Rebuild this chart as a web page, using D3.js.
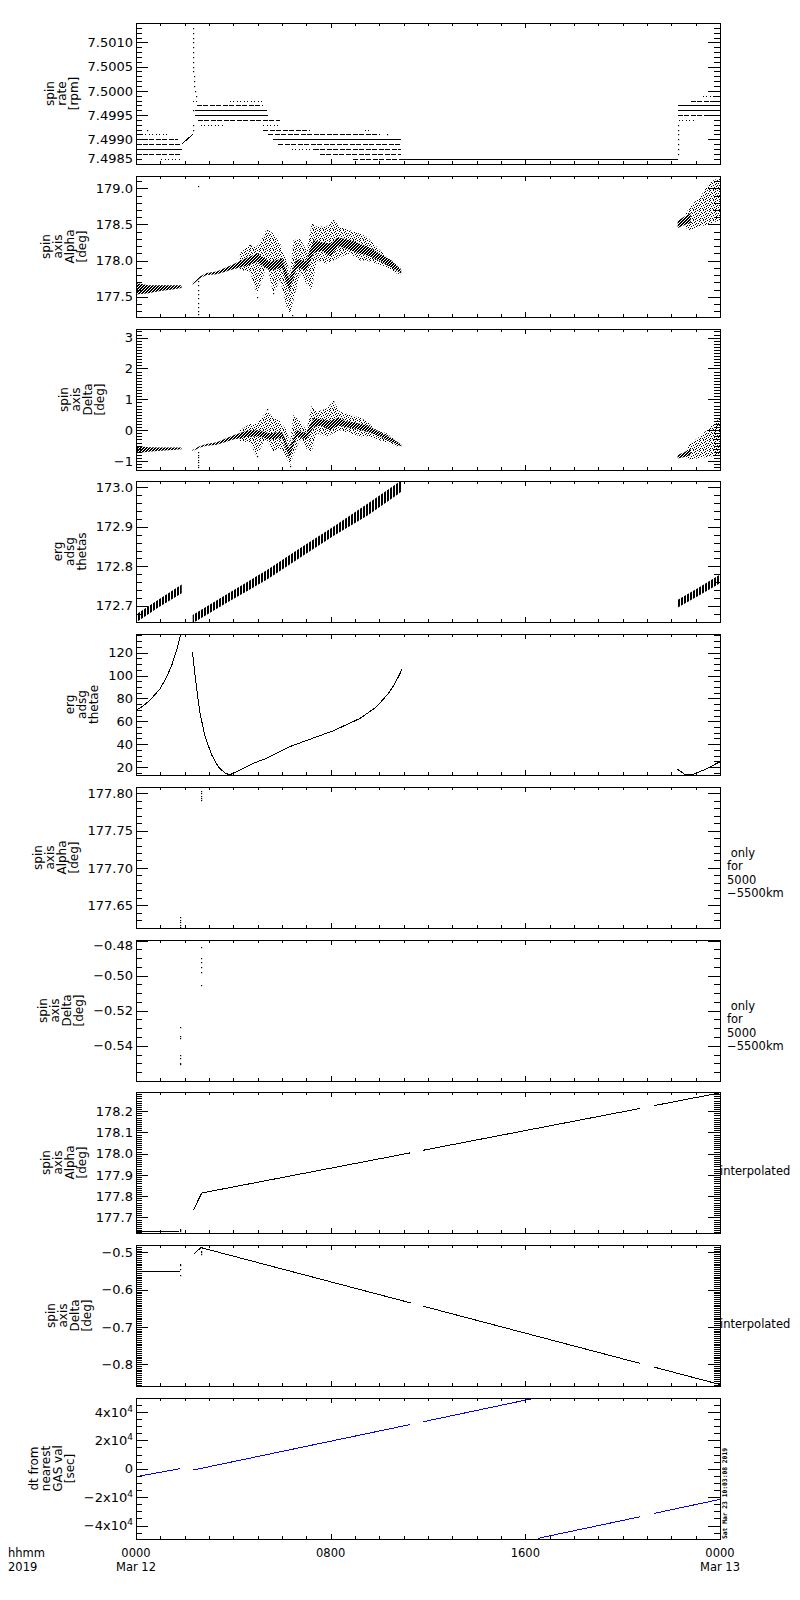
<!DOCTYPE html>
<html><head><meta charset="utf-8">
<script src="https://cdn.jsdelivr.net/npm/d3@7"></script>
<style>
body{margin:0;background:#fff;}
svg{display:block;font-family:"DejaVu Sans",sans-serif;}
.note{white-space:pre;}
</style></head><body>
<svg id="chart" width="800" height="1600"></svg>
<script>
// ---------------- DATA ----------------
const hourDomain = [0, 24];
const majorHourTicks = [0, 8, 16, 24];
const hourTickLabels = [["0000","Mar 12"],["0800"],["1600"],["0000","Mar 13"]];
const cornerLabel = ["hhmm","2019"];
const stampText = "Sat Mar 23 10:03:08 2019";

const panelTitles = [
  ["spin","rate","[rpm]"],
  ["spin","axis","Alpha","[deg]"],
  ["spin","axis","Delta","[deg]"],
  ["erg","adsg","thetas"],
  ["erg","adsg","thetae"],
  ["spin","axis","Alpha","[deg]"],
  ["spin","axis","Delta","[deg]"],
  ["spin","axis","Alpha","[deg]"],
  ["spin","axis","Delta","[deg]"],
  ["dt from","nearest","GAS val","[sec]"]
];
const panelNotes = [null,null,null,null,null,
  ["\u00a0only","for","5000","\u22125500km"],
  ["\u00a0only","for","5000","\u22125500km"],
  ["interpolated"],["interpolated"],null];

const yDomains = [
  [7.49849, 7.50140],[177.22, 179.17],[-1.29, 3.28],[172.659, 173.016],[13.0, 136.3],
  [177.6195, 177.8085],[-0.5601, -0.4797],[177.627, 178.29],[-0.859, -0.48],[-49500, 49800]
];
const yMajorTicks = [
  [7.4985,7.4990,7.4995,7.5000,7.5005,7.5010],
  [177.5,178.0,178.5,179.0],
  [-1,0,1,2,3],
  [172.7,172.8,172.9,173.0],
  [20,40,60,80,100,120],
  [177.65,177.70,177.75,177.80],
  [-0.54,-0.52,-0.50,-0.48],
  [177.7,177.8,177.9,178.0,178.1,178.2],
  [-0.8,-0.7,-0.6,-0.5],
  [-40000,-20000,0,20000,40000]
];
const yTickLabels = [
  ["7.4985","7.4990","7.4995","7.5000","7.5005","7.5010"],
  ["177.5","178.0","178.5","179.0"],
  ["\u22121","0","1","2","3"],
  ["172.7","172.8","172.9","173.0"],
  ["20","40","60","80","100","120"],
  ["177.65","177.70","177.75","177.80"],
  ["\u22120.54","\u22120.52","\u22120.50","\u22120.48"],
  ["177.7","177.8","177.9","178.0","178.1","178.2"],
  ["\u22120.8","\u22120.7","\u22120.6","\u22120.5"],
  [["\u22124x10","4"],["\u22122x10","4"],["0",""],["2x10","4"],["4x10","4"]]
];
const yMinorSteps = [0.0001, 0.1, 0.1, 0.02, 5, 0.01, 0.005, 0.01, 0.005, 5000];

// Panel 1: spin rate – quantised rows [startHour, endHour, rpm]
const rateRowsSolid = [
  [0,1.88,7.4988],[2.42,5.37,7.4996],[2.42,5.44,7.4995],[5.64,10.9,7.4990],
  [22.26,24,7.4997],[22.26,24,7.4996],[10.9,22.26,7.4986]
];
const rateRowsDashed = [
  [0,1.74,7.4990],[0,1.88,7.4989],[0,1.88,7.4987],[2.5,5.23,7.4997],[2.53,5.92,7.4994],
  [5.23,7.15,7.4992],[5.44,10.03,7.4991],[5.85,10.9,7.4989],[7.3,10.9,7.4988],
  [7.56,10.9,7.4987],[8.93,10.9,7.4986],[22.8,24,7.4998],[22.26,24,7.4995]
];
const rateRowsDotted = [
  [0.23,1.33,7.4991],[1.03,1.88,7.4986],[3.86,5.16,7.4998],[2.67,3.59,7.4993],
  [5.23,5.92,7.4993],[6.4,7.3,7.4988],[9.4,9.6,7.4992],[23.3,24,7.4999],
  [22.3,22.95,7.4994],[2.33,2.6,7.4998]
];
const rateBridge = [[1.88,7.4989],[2.33,7.4991]];
const ratePoints = [
  [0.44,7.4992],[2.33,7.5013],[2.33,7.5012],[2.33,7.5011],[2.33,7.5010],[2.33,7.5009],
  [2.34,7.5008],[2.34,7.5007],[2.35,7.5006],[2.35,7.5005],[2.36,7.5004],[2.37,7.5003],
  [2.38,7.5002],[2.40,7.5001],[2.42,7.5000],[2.45,7.4999],[2.33,7.4996],[2.33,7.4993],
  [2.33,7.4992],[10.3,7.4991],[22.26,7.4987],[22.26,7.4988],[22.26,7.4989],
  [22.26,7.4990],[22.26,7.4991],[22.26,7.4992],[22.26,7.4993]
];

// Panel 2: spin axis Alpha – dense core [hour, lo, hi], scatter envelope, outliers
const alphaCore = [
  [[0,177.53,177.69],[0.5,177.55,177.66],[1.0,177.58,177.66],[1.5,177.60,177.66],[1.87,177.62,177.66]],
  [[2.32,177.665,177.69],[2.63,177.755,177.78],[2.9,177.80,177.83],[3.32,177.81,177.85],
   [4.0,177.88,177.95],[4.55,177.93,178.04],[5.0,177.98,178.10],[5.5,177.86,177.98],
   [6.0,177.90,178.03],[6.3,177.58,177.75],[6.6,177.90,178.02],[7.0,177.86,177.99],
   [7.3,178.10,178.28],[7.6,178.14,178.25],[8.0,178.06,178.24],[8.3,178.20,178.32],
   [8.6,178.17,178.30],[9.0,178.12,178.26],[9.5,178.07,178.19],[10.0,178.00,178.10],
   [10.5,177.90,178.00],[10.9,177.82,177.87]],
  [[22.26,178.45,178.55],[22.6,178.50,178.62],[22.8,178.52,178.66]]
];
const alphaSpread = [
  [[4.27,177.87,178.10],[4.68,177.85,178.22],[4.96,177.54,178.19],[5.23,177.77,178.33],
   [5.37,177.96,178.44],[5.64,177.54,178.37],[5.92,177.73,178.24],[6.19,177.36,178.00],
   [6.33,177.27,177.82],[6.47,177.45,178.28],[6.74,177.82,178.30],[7.01,177.68,178.14],
   [7.22,177.59,178.51],[7.42,178.00,178.47],[7.84,177.96,178.47],[8.11,178.00,178.56],
   [8.38,178.05,178.47],[8.79,178.10,178.42],[9.21,178.00,178.37],[9.48,178.00,178.33],
   [9.89,177.96,178.19],[10.3,177.91,178.05],[10.71,177.82,177.94],[10.9,177.81,177.88]],
  [[22.6,178.45,178.65],[22.77,178.42,178.75],[23.18,178.47,178.88],[23.6,178.51,179.09],[24,178.56,179.15]]
];
const alphaOutliers = [
  [2.53,179.03],[2.53,177.72],[2.53,177.66],[2.53,177.60],[2.53,177.54],[2.53,177.48],
  [2.53,177.42],[2.53,177.36],[2.53,177.30],[2.53,177.26],[4.96,177.50],[5.64,177.55],
  [6.4,177.25],[7.22,178.51],[8.11,178.56],[5.37,178.43],[4.68,178.22],[0.02,177.45]
];

// Panel 3: spin axis Delta
const deltaCore = [
  [[0,-0.75,-0.50],[0.5,-0.70,-0.55],[1.0,-0.67,-0.56],[1.5,-0.64,-0.56],[1.87,-0.62,-0.56]],
  [[2.32,-0.68,-0.64],[2.63,-0.56,-0.51],[2.9,-0.50,-0.45],[3.32,-0.47,-0.39],[4.0,-0.30,-0.16],
   [4.55,-0.22,-0.02],[5.0,-0.20,0.0],[5.5,-0.30,-0.10],[6.0,-0.25,-0.05],[6.3,-0.90,-0.60],
   [6.6,-0.20,0.0],[7.0,-0.30,-0.10],[7.3,0.10,0.40],[7.6,0.15,0.35],[8.0,0.0,0.30],
   [8.3,0.15,0.40],[8.6,0.10,0.30],[9.0,0.05,0.25],[9.5,-0.05,0.15],[10.0,-0.20,-0.05],
   [10.5,-0.38,-0.25],[10.9,-0.52,-0.46]],
  [[22.26,-0.92,-0.80],[22.5,-0.88,-0.72],[22.8,-0.80,-0.62]]
];
const deltaSpread = [
  [[4.27,-0.35,0.0],[4.68,-0.40,0.20],[4.96,-0.85,0.20],[5.23,-0.40,0.45],[5.37,-0.30,0.65],
   [5.64,-0.70,0.40],[5.92,-0.60,0.30],[6.19,-0.90,0.0],[6.33,-1.15,-0.40],[6.47,-0.80,0.50],
   [6.74,-0.30,0.30],[7.01,-0.60,0.0],[7.22,-0.70,0.80],[7.42,-0.10,0.60],[7.84,-0.20,0.70],
   [8.11,-0.10,0.95],[8.38,0.0,0.60],[8.79,-0.10,0.50],[9.21,-0.20,0.40],[9.48,-0.20,0.30],
   [9.89,-0.30,0.0],[10.3,-0.40,-0.10],[10.71,-0.52,-0.35],[10.9,-0.55,-0.45]],
  [[22.6,-0.90,-0.65],[22.77,-0.95,-0.45],[23.18,-0.90,-0.20],[23.6,-0.85,0.10],[24,-0.80,0.40]]
];
const deltaOutliers = [
  [2.53,-0.72],[2.53,-0.80],[2.53,-0.88],[2.53,-0.96],[2.53,-1.04],[2.53,-1.12],[2.53,-1.20],
  [4.96,-0.85],[5.37,0.68],[8.11,0.96],[6.33,-1.15]
];

// Panel 4: erg adsg thetas band [hour, lo, hi]
const thetasBand = [
  [[0,172.658,172.678],[0.9,172.695,172.715],[1.88,172.732,172.754]],
  [[2.33,172.656,172.677],[3.8,172.710,172.732],[5.37,172.766,172.790],[6.8,172.824,172.848],
   [8.11,172.877,172.900],[9.5,172.928,172.958],[10.78,172.983,173.012],[10.92,172.990,173.016]],
  [[22.25,172.695,172.715],[23.1,172.725,172.745],[24,172.757,172.779]]
];

// Panel 5: erg adsg thetae
const thetaeLine = [
  [[0,69.5],[0.3,73.5],[0.58,78.5],[1.0,88.7],[1.26,98.8],[1.47,109],[1.67,122],[1.81,133.8],[1.86,137]],
  [[2.32,120.7],[2.42,101.8],[2.52,84.3],[2.63,66.9],[2.84,46.5],[3.11,30.5],[3.38,20.3],[3.66,14.5],
   [3.86,13.2],[4.14,16.0],[4.82,23.3],[5.37,27.6],[6.33,37.9],[8.11,51.7],[9.21,62.5],[9.89,72.7],
   [10.37,84.3],[10.64,93],[10.85,101.8],[10.92,106]],
  [[22.25,18],[22.56,13.5],[22.9,13.5],[23.4,18],[24,24.6]]
];

// Panel 6/7: only for 5000-5500 km
const alphaSelPoints = [
  [1.81,177.634],[1.81,177.630],[1.80,177.627],[1.81,177.624],[1.82,177.621],
  [2.67,177.803],[2.67,177.800],[2.67,177.797],[2.67,177.794],[2.68,177.791]
];
const deltaSelPoints = [
  [1.81,-0.5291],[1.81,-0.5347],[1.80,-0.5356],[1.81,-0.5450],[1.81,-0.5469],[1.80,-0.5497],[1.81,-0.5506],
  [2.67,-0.4837],[2.67,-0.4897],[2.67,-0.4925],[2.67,-0.4953],[2.67,-0.4981],[2.67,-0.5056]
];

// Panel 8/9: interpolated
const alphaInterp = [
  [[0,177.635],[1.78,177.635]],
  [[2.36,177.735],[2.7,177.815],[11.28,178.004]],
  [[11.8,178.016],[20.73,178.213]],
  [[21.3,178.226],[24,178.286]]
];
const alphaInterpPoints = [[1.8,177.638],[1.8,177.641],[1.8,177.644]];
const deltaInterp = [
  [[0,-0.552],[1.8,-0.552]],
  [[2.36,-0.505],[2.67,-0.487],[11.28,-0.6355]],
  [[11.8,-0.6445],[20.73,-0.7985]],
  [[21.3,-0.8084],[24,-0.855]]
];
const deltaInterpPoints = [[1.8,-0.530],[1.8,-0.535],[1.8,-0.545],[1.8,-0.560],[2.67,-0.495],[2.67,-0.500],[2.67,-0.505]];

// Panel 10: dt from nearest GAS value [sec]
const gasDt = [
  [[0,-5600],[1.8,0]],
  [[2.35,-940],[11.28,31160]],
  [[11.8,33060],[16.32,49450]],
  [[16.53,-49000],[20.73,-33770]],
  [[21.3,-31440],[24,-21600]]
];

// ---------------- LAYOUT / RENDER ----------------
const svg = d3.select("#chart");
const X0 = 136, X1 = 720, PH = 141;
const panelTop = i => Math.round(23 + 152.78 * i);
const x = d3.scaleLinear().domain(hourDomain).range([X0, X1]);

const defs = svg.append("defs");
// textures
const hatch = defs.append("pattern").attr("id","hatch").attr("width",3).attr("height",8)
  .attr("patternUnits","userSpaceOnUse");
hatch.append("rect").attr("width",2).attr("height",8).attr("fill","#000");
const speck = defs.append("pattern").attr("id","speck").attr("width",10).attr("height",10)
  .attr("patternUnits","userSpaceOnUse");
[[0,0],[3,0],[7,0],[5,1],[9,1],[1,2],[4,2],[8,3],[2,3],[6,3],[0,4],[5,4],[9,5],[3,5],[7,5],
 [1,6],[6,6],[4,7],[8,7],[0,8],[2,8],[6,8],[9,9],[3,9],[5,9]].forEach(p=>
  speck.append("rect").attr("x",p[0]).attr("y",p[1]).attr("width",1).attr("height",1).attr("fill","#000"));
const dense = defs.append("pattern").attr("id","dense").attr("width",3).attr("height",3)
  .attr("patternUnits","userSpaceOnUse");
dense.append("rect").attr("width",3).attr("height",3).attr("fill","#000");
[[1,0],[2,2],[0,1]].forEach(p=>
  dense.append("rect").attr("x",p[0]).attr("y",p[1]).attr("width",1).attr("height",1).attr("fill","#fff"));

function minorValues(majors, step, dom){
  const lo = Math.min(dom[0],dom[1]), hi = Math.max(dom[0],dom[1]);
  const out = [], eps = step*1e-3;
  const isMajor = v => majors.some(m => Math.abs(m - v) < eps);
  for (let k = -400; k <= 400; k++){
    const v = majors[0] + k*step;
    if (v >= lo - eps && v <= hi + eps && !isMajor(v)) out.push(v);
  }
  return out;
}

function drawLines(g, y, segs, color){
  const line = d3.line().x(d=>x(d[0])).y(d=>y(d[1]));
  g.selectAll(null).data(segs).join("path").attr("d", line)
    .attr("fill","none").attr("stroke",color||"#000").attr("stroke-width",1)
    .attr("shape-rendering","crispEdges");
}
function drawBand(g, y, segs, fill){
  const area = d3.area().x(d=>x(d[0])).y0(d=>y(d[1])).y1(d=>y(d[2]));
  g.selectAll(null).data(segs).join("path").attr("d", area).attr("fill", fill).attr("stroke","none");
}
function drawDots(g, y, pts){
  g.selectAll(null).data(pts).join("rect")
    .attr("x", d=>Math.round(x(d[0]))).attr("y", d=>Math.round(y(d[1])))
    .attr("width",1.2).attr("height",1.2).attr("fill","#000");
}
function drawRows(g, y, rows, dash){
  g.selectAll(null).data(rows).join("line")
    .attr("x1", d=>x(d[0])).attr("x2", d=>x(d[1]))
    .attr("y1", d=>Math.round(y(d[2]))+0.5).attr("y2", d=>Math.round(y(d[2]))+0.5)
    .attr("stroke","#000").attr("stroke-width",1).attr("stroke-dasharray", dash)
    .attr("shape-rendering","crispEdges");
}

const renderers = [
  (g,y)=>{ drawRows(g,y,rateRowsSolid,null); drawRows(g,y,rateRowsDashed,"5,1.5");
           drawRows(g,y,rateRowsDotted,"1,2.5"); drawLines(g,y,[rateBridge]); drawDots(g,y,ratePoints); },
  (g,y)=>{ drawBand(g,y,alphaSpread,"url(#speck)"); drawBand(g,y,alphaCore,"url(#dense)"); drawDots(g,y,alphaOutliers); },
  (g,y)=>{ drawBand(g,y,deltaSpread,"url(#speck)"); drawBand(g,y,deltaCore,"url(#dense)"); drawDots(g,y,deltaOutliers); },
  (g,y)=>{ drawBand(g,y,thetasBand,"url(#hatch)"); },
  (g,y)=>{ drawLines(g,y,thetaeLine); },
  (g,y)=>{ drawDots(g,y,alphaSelPoints); },
  (g,y)=>{ drawDots(g,y,deltaSelPoints); },
  (g,y)=>{ drawLines(g,y,alphaInterp); drawDots(g,y,alphaInterpPoints); },
  (g,y)=>{ drawLines(g,y,deltaInterp); drawDots(g,y,deltaInterpPoints); },
  (g,y)=>{ drawLines(g,y,gasDt,"#0000ff"); }
];

const minorHours = d3.range(hourDomain[0], hourDomain[1] + 1).filter(h => !majorHourTicks.includes(h));

panelTitles.forEach((title, i) => {
  const top = panelTop(i), bot = top + PH;
  const y = d3.scaleLinear().domain(yDomains[i]).range([bot, top]);
  const cid = "clip" + i;
  defs.append("clipPath").attr("id", cid).append("rect")
    .attr("x", X0).attr("y", top).attr("width", X1 - X0 + 1).attr("height", PH + 1);
  const dg = svg.append("g").attr("clip-path", `url(#${cid})`);
  renderers[i](dg, y);

  // frame
  svg.append("rect").attr("x", X0 + 0.5).attr("y", top + 0.5).attr("width", X1 - X0).attr("height", PH)
    .attr("fill","none").attr("stroke","#000").attr("stroke-width",1).attr("shape-rendering","crispEdges");

  const clean = g => { g.select(".domain").remove(); g.attr("color","#000").selectAll("line").attr("shape-rendering","crispEdges"); };
  // x ticks top & bottom
  svg.append("g").attr("transform",`translate(0,${top})`)
    .call(d3.axisBottom(x).tickValues(majorHourTicks).tickSize(5).tickFormat("")).call(clean);
  svg.append("g").attr("transform",`translate(0,${top})`)
    .call(d3.axisBottom(x).tickValues(minorHours).tickSize(3).tickFormat("")).call(clean);
  svg.append("g").attr("transform",`translate(0,${bot})`)
    .call(d3.axisTop(x).tickValues(majorHourTicks).tickSize(5).tickFormat("")).call(clean);
  svg.append("g").attr("transform",`translate(0,${bot})`)
    .call(d3.axisTop(x).tickValues(minorHours).tickSize(3).tickFormat("")).call(clean);

  const majors = yMajorTicks[i];
  const minors = minorValues(majors, yMinorSteps[i], yDomains[i]);
  // right side ticks
  svg.append("g").attr("transform",`translate(${X1},0)`)
    .call(d3.axisLeft(y).tickValues(majors).tickSize(12).tickFormat("")).call(clean);
  svg.append("g").attr("transform",`translate(${X1},0)`)
    .call(d3.axisLeft(y).tickValues(minors).tickSize(6).tickFormat("")).call(clean);
  // left side minor ticks
  svg.append("g").attr("transform",`translate(${X0},0)`)
    .call(d3.axisLeft(y).tickValues(minors).tickSize(-6).tickFormat("")).call(clean);
  // left side major ticks with labels
  const labels = yTickLabels[i];
  const ax = svg.append("g").attr("transform",`translate(${X0},0)`)
    .call(d3.axisLeft(y).tickValues(majors).tickSize(-12).tickPadding(3)
      .tickFormat((d,k)=> Array.isArray(labels[k]) ? "" : labels[k]))
    .call(clean);
  ax.attr("font-family","DejaVu Sans").attr("font-size",13);
  ax.selectAll(".tick").each(function(d,k){
    const t = d3.select(this).select("text").attr("fill","#000");
    if (Array.isArray(labels[k])){
      t.text(null);
      t.append("tspan").text(labels[k][0]);
      if (labels[k][1]) t.append("tspan").attr("font-size",9).attr("dy","-0.55em").text(labels[k][1]);
    }
    const yy = y(d);
    if (yy < top + 5.5) t.attr("y", top + 5.5 - yy);
    if (yy > bot - 5.5) t.attr("y", bot - 5.5 - yy);
  });
  let minX = 0;
  ax.selectAll("text").each(function(){ const b = this.getBBox(); minX = Math.min(minX, b.x); });
  const labelLeft = X0 + minX;

  // y title: one rotated text, lines stacked left-to-right
  const cy = top + PH / 2;
  const n = title.length;
  const firstX = labelLeft - 10 - (n - 1) * 12;
  const tt = svg.append("text").attr("transform",`translate(${firstX},${cy}) rotate(-90)`)
    .attr("text-anchor","middle").attr("font-size",12).attr("fill","#000");
  title.forEach((line, k) => {
    tt.append("tspan").attr("x",0).attr("y", k * 12).text(line);
  });

  // right-side notes
  const note = panelNotes[i];
  if (note){
    const single = note.length === 1;
    const nt = svg.append("text").attr("class","note").attr("font-size",11.5).attr("fill","#000");
    note.forEach((line, k) => {
      nt.append("tspan").attr("x", single ? X1 : X1 + 7)
        .attr("y", cy + (single ? 12 : -1) + k * 13.6).text(line);
    });
  }
});

// bottom time labels
const lastBot = panelTop(9) + PH;
hourTickLabels.forEach((lines, k) => {
  const t = svg.append("text").attr("text-anchor","middle").attr("font-size",11.5).attr("fill","#000");
  lines.forEach((s, j) => {
    t.append("tspan").attr("x", x(majorHourTicks[k])).attr("y", lastBot + 18 + j * 13.6).text(s);
  });
});
const ct = svg.append("text").attr("font-size",11.5).attr("fill","#000");
cornerLabel.forEach((s, j) => {
  ct.append("tspan").attr("x", 8).attr("y", lastBot + 18 + j * 13.6).text(s);
});
// time stamp
svg.append("text").attr("transform",`translate(${X1 + 7},${lastBot}) rotate(-90)`)
  .attr("font-family","DejaVu Sans Mono").attr("font-weight","bold").attr("font-size",6.5)
  .attr("textLength",91).attr("lengthAdjust","spacingAndGlyphs").attr("fill","#000").text(stampText);
</script>
</body></html>
